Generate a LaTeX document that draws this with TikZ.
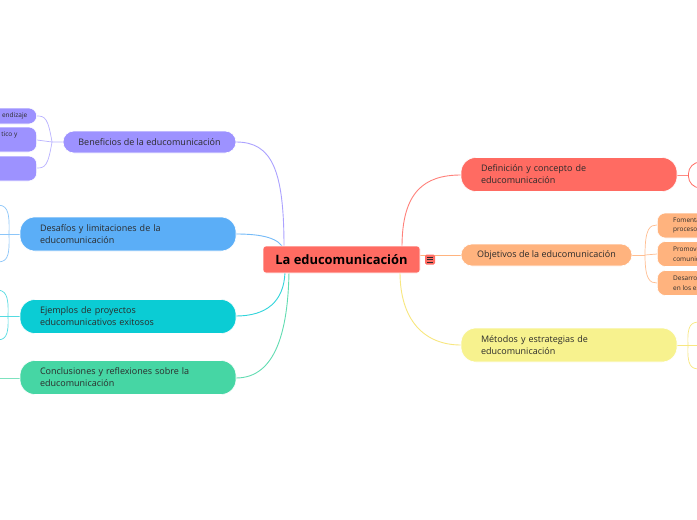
\documentclass[tikz,border=0pt]{standalone}
\usepackage{fontspec}
\setmainfont{Open Sans}
\definecolor{cpur}{HTML}{9D92FF}
\definecolor{cblu}{HTML}{5BAEF7}
\definecolor{ccya}{HTML}{0BCCD4}
\definecolor{cgre}{HTML}{46D6A4}
\definecolor{cred}{HTML}{FF6B62}
\definecolor{cora}{HTML}{FFB37E}
\definecolor{cyel}{HTML}{F7F28E}
\definecolor{ctxt}{HTML}{2B2B2B}
\tikzset{
  x=1pt,y=-1pt,
  conn/.style={line width=0.9pt},
  mainone/.style={rounded corners=11pt, minimum height=22pt, inner xsep=4pt, inner ysep=0pt,
     font=\fontsize{9}{12}\selectfont, text=ctxt, draw=white, line width=0.6pt},
  maintwo/.style={rounded corners=15pt, minimum height=34pt, text width=176pt, align=left,
     inner xsep=20pt, inner ysep=0pt, font=\fontsize{9}{12}\selectfont, text=ctxt, draw=white, line width=0.6pt},
  subbox/.style={rounded corners=8pt, draw=white, line width=0.6pt},
  subtxt/.style={font=\fontsize{6.5}{9.5}\selectfont, text=ctxt, inner sep=0pt, align=left},
}
\begin{document}
\begin{tikzpicture}
\useasboundingbox (0,0) rectangle (697,520);
\clip (0,0) rectangle (697,520);
\fill[white] (0,0) rectangle (697,520);

% ---------- coordinates for off-page child ends
\coordinate (d1) at (-4,205);
\coordinate (d2) at (-4,234);
\coordinate (d3) at (-4,262);
\coordinate (e1) at (-4,290);
\coordinate (e2) at (-4,316);
\coordinate (e3) at (-4,340);
\coordinate (k1) at (-4,378);
\coordinate (m1) at (700,322);
\coordinate (m2) at (700,345);
\coordinate (m3) at (700,369);

% ---------- main connectors
\draw[conn, cpur!85] (284,247) .. controls (284,170) and (272,142) .. (236,142);
\draw[conn, cblu!85] (284,250) .. controls (280,238) and (262,234) .. (236,234);
\draw[conn, ccya!85] (285,272) .. controls (284,302) and (266,316) .. (236,316);
\draw[conn, cgre!85] (289,272) .. controls (288,330) and (276,378) .. (236,378);
\draw[conn, cred!85] (402,247) .. controls (402,192) and (424,175) .. (461,175);
\draw[conn, cyel!90!orange] (400,272) .. controls (400,320) and (424,345) .. (461,345);
\draw[conn, cora] (420,255) -- (461,255);

% ---------- child connectors (left)
\draw[conn, cpur!70, line width=0.7pt] (63,142) -- (52,142)
   .. controls (48,118) and (45,116) .. (37,116);
\draw[conn, cpur!70, line width=0.7pt] (52,142) -- (37,140);
\draw[conn, cpur!70, line width=0.7pt] (52,142)
   .. controls (48,166) and (45,168) .. (37,168);
\draw[conn, cblu!70, line width=0.7pt] (20,234) -- (d2);
\draw[conn, cblu!70, line width=0.7pt] (9,234) .. controls (10,208) and (6,205) .. (d1);
\draw[conn, cblu!70, line width=0.7pt] (9,234) .. controls (10,260) and (6,262) .. (d3);
\draw[conn, ccya!70, line width=0.7pt] (20,316) -- (e2);
\draw[conn, ccya!70, line width=0.7pt] (8,316) .. controls (9,294) and (5,290) .. (e1);
\draw[conn, ccya!70, line width=0.7pt] (8,316) .. controls (9,337) and (5,340) .. (e3);
\draw[conn, cgre!70, line width=0.7pt] (20,378) -- (k1);

% ---------- child connectors (right)
\draw[conn, cred!80, line width=0.7pt] (677,175) -- (688,175);
\draw[conn, cora!85, line width=0.7pt] (632,255) -- (645,255);
\draw[conn, cora!85, line width=0.7pt] (645,255) .. controls (645,228) and (650,225) .. (657,225);
\draw[conn, cora!85, line width=0.7pt] (645,255) -- (657,254);
\draw[conn, cora!85, line width=0.7pt] (645,255) .. controls (645,280) and (650,283) .. (657,283);
\draw[conn, cyel!90!orange, line width=0.7pt] (677,345) -- (m2);
\draw[conn, cyel!90!orange, line width=0.7pt] (688,345) .. controls (687,325) and (691,322) .. (m1);
\draw[conn, cyel!90!orange, line width=0.7pt] (688,345) .. controls (687,366) and (691,369) .. (m3);

% ---------- central node
\node[fill=cred, draw=white, line width=0.6pt, rounded corners=3pt, minimum width=157pt,
      minimum height=27pt, inner sep=0pt, font=\fontsize{12.9}{14}\selectfont\bfseries, text=black]
      (root) at (341.5,259.5) {La educomunicación};
\node[fill=cred, rounded corners=1.5pt, minimum size=10pt, inner sep=0pt] (icon) at (430,259.5) {};
\draw[ctxt, line width=0.6pt] (427,257) -- (433,257) (427,259.5) -- (433,259.5) (427,262) -- (433,262);

% ---------- left main nodes
\node[mainone, fill=cpur, minimum width=173pt] (ben) at (149.5,142) {Beneficios de la educomunicación};
\node[maintwo, fill=cblu] (des) at (128,234) {Desafíos y limitaciones de la\\educomunicación};
\node[maintwo, fill=ccya] (eje) at (128,316.5) {Ejemplos de proyectos\\educomunicativos exitosos};
\node[maintwo, fill=cgre] (con) at (128,377.5) {Conclusiones y reflexiones sobre la\\educomunicación};

% ---------- right main nodes
\node[maintwo, fill=cred] (def) at (569,174.5) {Definición y concepto de\\educomunicación};
\node[mainone, fill=cora, minimum width=171pt] (obj) at (546.5,255) {Objetivos de la educomunicación};
\node[maintwo, fill=cyel] (met) at (569,345) {Métodos y estrategias de\\educomunicación};

% ---------- children of Beneficios (cut off at the left edge)
\node[subbox, fill=cpur, minimum width=100pt, minimum height=16pt, anchor=east] (b1) at (37,116) {};
\node[subtxt, anchor=east] (b1t) at (27.5,116) {endizaje};
\node[subbox, fill=cpur, minimum width=100pt, minimum height=25pt, anchor=east] (b2) at (37,139.5) {};
\node[subtxt, anchor=east] (b2t) at (17.5,134.5) {tico y};
\node[subbox, fill=cpur, minimum width=100pt, minimum height=25pt, anchor=east] (b3) at (37,168.5) {};

% ---------- child of Definición
\node[subbox, draw=cred, fill=white, line width=0.8pt, rounded corners=12pt, minimum width=70pt,
      minimum height=26pt, anchor=west] (df1) at (688,175) {};

% ---------- children of Objetivos (cut off at the right edge)
\node[subbox, fill=cora, minimum width=90pt, minimum height=25pt, anchor=west] (o1) at (657,225.5) {};
\node[subtxt, anchor=west] (o1t) at (673,225.5) {Fomenta\\procesos};
\node[subbox, fill=cora, minimum width=90pt, minimum height=25pt, anchor=west] (o2) at (657,254) {};
\node[subtxt, anchor=west] (o2t) at (673,254) {Promover\\comunicación};
\node[subbox, fill=cora, minimum width=90pt, minimum height=25pt, anchor=west] (o3) at (657,283) {};
\node[subtxt, anchor=west] (o3t) at (673,283) {Desarrollar\\en los estudiantes};
\end{tikzpicture}
\end{document}
